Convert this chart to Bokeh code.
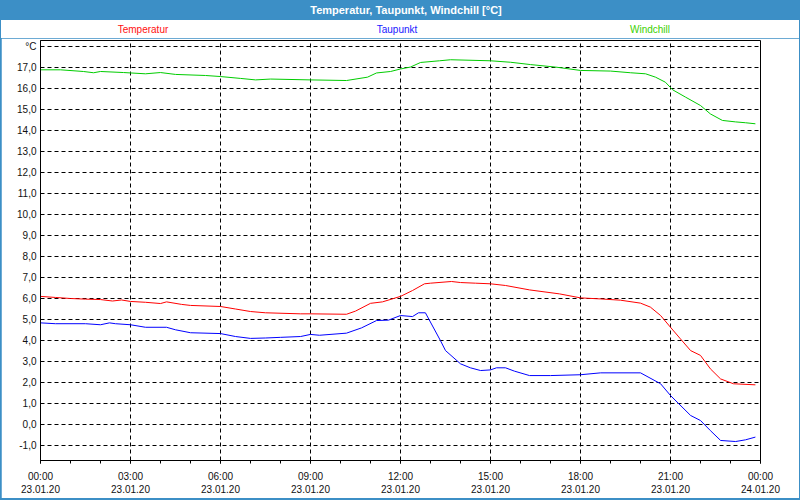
from bokeh.plotting import figure
from bokeh.models import Div, FixedTicker, Range1d
from bokeh.layouts import column
from bokeh.embed import file_html
from bokeh.resources import INLINE

title_text = "Temperatur, Taupunkt, Windchill [°C]"
series_names = ["Temperatur", "Taupunkt", "Windchill"]
series_colors = ["#ff0000", "#0000ff", "#00cc00"]
label_colors = ["#ff1010", "#2020ff", "#40d000"]

# hours since 23.01.20 00:00
temp_h = [0, 0.5, 1, 1.5, 2, 2.4, 2.7, 3, 3.5, 4, 4.2, 4.7, 5, 6, 6.5, 7, 7.5, 8.67, 9, 10.2, 10.5,
          11.0, 11.4, 12, 12.4, 12.8, 13.0, 13.7, 14.0, 14.5, 15, 15.5, 16.3, 17.3, 18, 18.67, 19.33,
          20, 20.33, 20.67, 21, 21.33, 21.67, 22, 22.33, 22.67, 23.1, 23.83]
temp_v = [6.10, 6.05, 6.00, 5.97, 5.95, 5.88, 5.93, 5.86, 5.82, 5.76, 5.84, 5.72, 5.67, 5.62, 5.50, 5.38,
          5.32, 5.27, 5.27, 5.25, 5.40, 5.77, 5.84, 6.10, 6.38, 6.70, 6.73, 6.81, 6.76, 6.73, 6.70, 6.62,
          6.41, 6.22, 6.03, 5.98, 5.92, 5.78, 5.59, 5.19, 4.63, 4.08, 3.52, 3.29, 2.65, 2.17, 1.94, 1.89]

dew_h = [0, 0.5, 1.5, 2.0, 2.3, 2.5, 3, 3.5, 4.2, 4.5, 5, 6, 6.5, 7.0, 7.5, 8.0, 8.67, 9, 9.3, 10.2,
         10.7, 11.2, 11.6, 12, 12.4, 12.6, 12.83, 13.33, 13.5, 14, 14.33, 14.67, 15, 15.2, 15.5, 15.8,
         16.3, 17, 18, 18.67, 20, 20.67, 21, 21.67, 22, 22.33, 22.67, 23.17, 23.5, 23.83]
dew_v = [4.84, 4.80, 4.80, 4.75, 4.84, 4.80, 4.75, 4.63, 4.63, 4.51, 4.37, 4.33, 4.19, 4.10, 4.12, 4.15,
         4.19, 4.29, 4.25, 4.35, 4.60, 4.95, 4.97, 5.19, 5.14, 5.32, 5.32, 4.00, 3.52, 2.89, 2.70, 2.57,
         2.60, 2.70, 2.70, 2.54, 2.33, 2.33, 2.37, 2.46, 2.46, 1.94, 1.38, 0.43, 0.19, -0.29, -0.76,
         -0.81, -0.73, -0.60]

wc_h = [0, 0.67, 1.43, 1.77, 2, 2.77, 3.5, 4, 4.5, 5.5, 6, 6.67, 7.17, 7.67, 9, 10.2, 10.9, 11.2,
        11.67, 12, 12.33, 12.67, 13.3, 13.67, 15, 15.67, 16.33, 17.17, 18, 19, 19.67, 20.17, 20.5,
        20.83, 21.07, 21.5, 22, 22.33, 22.73, 23.17, 23.5, 23.83]
wc_v = [16.89, 16.89, 16.81, 16.75, 16.81, 16.76, 16.70, 16.76, 16.67, 16.62, 16.57, 16.48, 16.41,
        16.45, 16.41, 16.38, 16.54, 16.74, 16.81, 16.93, 17.02, 17.24, 17.32, 17.37, 17.32, 17.25,
        17.14, 17.02, 16.86, 16.83, 16.75, 16.70, 16.54, 16.30, 15.94, 15.59, 15.19, 14.79, 14.48,
        14.41, 14.37, 14.32]

x_major = [0, 3, 6, 9, 12, 15, 18, 21, 24]
x_labels = ["00:00\n23.01.20", "03:00\n23.01.20", "06:00\n23.01.20", "09:00\n23.01.20",
            "12:00\n23.01.20", "15:00\n23.01.20", "18:00\n23.01.20", "21:00\n23.01.20",
            "00:00\n24.01.20"]
x_minor = list(range(0, 25))
y_major = list(range(-1, 19))
y_labels = ["-1,0", "0,0", "1,0", "2,0", "3,0", "4,0", "5,0", "6,0", "7,0", "8,0", "9,0",
            "10,0", "11,0", "12,0", "13,0", "14,0", "15,0", "16,0", "17,0", "°C"]
legend_px = [142, 396, 649]

FONT = "Liberation Sans"
BLUE = "#3c8fc6"

header = Div(text=title_text, width=800, height=20, margin=0,
             styles={"background-color": BLUE, "color": "white", "font-weight": "bold",
                     "font-family": FONT, "font-size": "11px", "text-align": "center",
                     "line-height": "20px", "padding-left": "12px", "box-sizing": "border-box"})

spans = "".join(
    f'<span style="position:absolute;left:{x}px;top:0;transform:translateX(-50%);'
    f'color:{c};white-space:nowrap">{n}</span>'
    for n, x, c in zip(series_names, legend_px, label_colors))
legend_div = Div(text=f'<div style="position:relative;width:798px;height:18px">{spans}</div>',
                 width=798, height=18, margin=(0, 1, 0, 1),
                 styles={"font-family": FONT, "font-size": "10px", "line-height": "20px",
                         "background-color": "white"})

p = figure(width=798, height=460, output_backend="svg", toolbar_location=None,
           x_range=Range1d(0, 24), y_range=Range1d(-1.714, 18.286),
           min_border_left=39, min_border_right=39, min_border_top=2, min_border_bottom=38,
           margin=(0, 1, 2, 1))
p.title.text = ""
p.background_fill_color = "white"
p.border_fill_color = "white"
p.outline_line_color = "black"
p.outline_line_width = 1

for hs, vs, c in [(temp_h, temp_v, series_colors[0]), (dew_h, dew_v, series_colors[1]),
                  (wc_h, wc_v, series_colors[2])]:
    p.line(hs, vs, line_color=c, line_width=1)

p.xaxis.ticker = FixedTicker(ticks=x_major, minor_ticks=x_minor)
p.xaxis.major_label_overrides = {t: l for t, l in zip(x_major, x_labels)}
p.yaxis.ticker = FixedTicker(ticks=y_major)
p.yaxis.major_label_overrides = {t: l for t, l in zip(y_major, y_labels)}

for ax in (p.xaxis[0], p.yaxis[0]):
    ax.axis_line_color = "black"
    ax.major_label_text_font = FONT
    ax.major_label_text_font_size = "10px"
    ax.major_label_text_color = "#111111"
    ax.major_tick_in = 0
    ax.minor_tick_in = 0
p.xaxis.major_tick_out = 3
p.xaxis.minor_tick_out = 3
p.xaxis.major_tick_line_color = "black"
p.xaxis.minor_tick_line_color = "black"
p.xaxis.major_label_standoff = 7
p.yaxis.major_tick_out = 0
p.yaxis.minor_tick_out = 0
p.yaxis.major_label_standoff = 4

p.xgrid.ticker = FixedTicker(ticks=x_major[1:-1])
p.ygrid.ticker = FixedTicker(ticks=y_major)
for g in (p.xgrid[0], p.ygrid[0]):
    g.grid_line_color = "black"
    g.grid_line_dash = "4 3"
    g.grid_line_width = 1
    g.grid_line_alpha = 1

layout = column(header, legend_div, p, spacing=0, width=800, height=500,
                styles={"background-color": BLUE})
open("out.html", "w").write(file_html(layout, INLINE))
